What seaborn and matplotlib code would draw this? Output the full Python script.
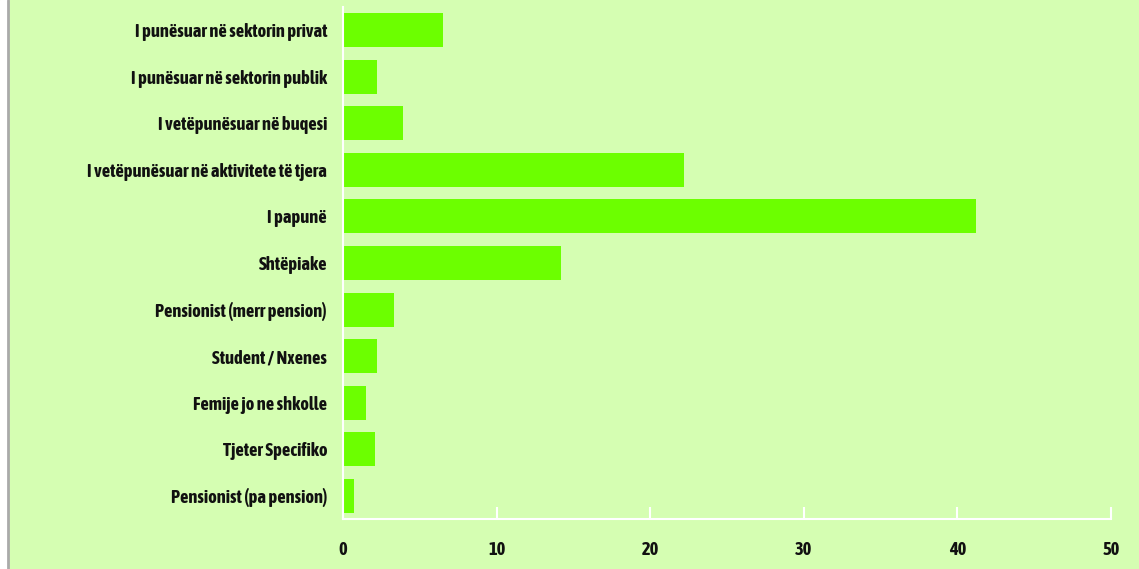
import pandas as pd
import numpy as np
import matplotlib.pyplot as plt
import seaborn as sns
from matplotlib import font_manager
from matplotlib.patches import Rectangle
from matplotlib.lines import Line2D

categories = [
    "I punësuar në sektorin privat",
    "I punësuar në sektorin publik",
    "I vetëpunësuar në buqesi",
    "I vetëpunësuar në aktivitete të tjera",
    "I papunë",
    "Shtëpiake",
    "Pensionist (merr pension)",
    "Student / Nxenes",
    "Femije jo ne shkolle",
    "Tjeter Specifiko",
    "Pensionist (pa pension)",
]
values = [6.5, 2.2, 3.9, 22.2, 41.2, 14.2, 3.3, 2.2, 1.5, 2.1, 0.7]
xticks = [0, 10, 20, 30, 40, 50]

bg = "#d5feb2"
bar_color = "#6cff00"

sns.set_style("white")
# pick a condensed face if one is installed, else shrink DejaVu
available = {f.name for f in font_manager.fontManager.ttflist}
font, fsize = "DejaVu Sans", 9
for name in ["Asap Condensed", "Encode Sans Condensed", "Barlow Semi Condensed",
             "Liberation Sans Narrow"]:
    if name in available:
        font, fsize = name, 13.2
        break
plt.rcParams["font.family"] = [font, "DejaVu Sans"]

df = pd.DataFrame({"cat": categories, "val": values})

fig = plt.figure(figsize=(11.39, 5.69), dpi=100, facecolor=bg)
fig.add_artist(Rectangle((0, 0), 7 / 1139, 1, transform=fig.transFigure, color="white", zorder=0))
fig.add_artist(Line2D([8 / 1139, 8 / 1139], [0, 1], transform=fig.transFigure, color="#aaaaaa", lw=2))

ax = fig.add_axes([343 / 1139, 1 - 519 / 569, (1111 - 343) / 1139, (519 - 7) / 569])
ax.set_facecolor(bg)
sns.barplot(data=df, x="val", y="cat", orient="h", color=bar_color, width=0.73,
            saturation=1, linewidth=0, ax=ax)

ax.set_xlim(0, 50)
ax.set_xticks(xticks)
ax.set_xlabel("")
ax.set_ylabel("")
for s in ["top", "right"]:
    ax.spines[s].set_visible(False)
for s in ["left", "bottom"]:
    ax.spines[s].set_color("white")
    ax.spines[s].set_linewidth(1.5)

ax.tick_params(axis="x", bottom=True, direction="in", length=9, width=1.5,
               color="white", pad=16, labelsize=fsize)
ax.tick_params(axis="y", left=False, length=0, pad=11.5, labelsize=fsize)
for lab in ax.get_xticklabels() + ax.get_yticklabels():
    lab.set_fontweight("bold")
    lab.set_color("#111111")

fig.savefig("out.png", dpi=100, facecolor=bg)
